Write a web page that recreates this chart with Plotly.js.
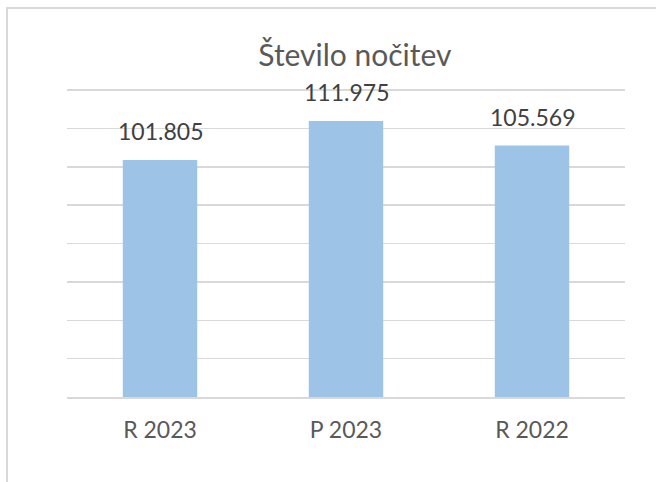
<!DOCTYPE html>
<html>
<head>
<meta charset="utf-8">
<script src="https://cdn.plot.ly/plotly-3.0.1.min.js"></script>
<style>
  html, body { margin: 0; padding: 0; background: #fff; }
  #wrap { position: relative; width: 656px; height: 482px; overflow: hidden; }
  #frame { position: absolute; left: 6px; top: 7px; width: 700px; height: 500px;
           border-left: 2px solid #d9d9d9; border-top: 2px solid #d9d9d9; pointer-events: none; }
  #chart { position: absolute; left: 0; top: 0; width: 656px; height: 482px; }
</style>
</head>
<body>
<div id="wrap">
  <div id="chart"></div>
  <div id="frame"></div>
</div>
<script>
  // data
  const periods = ["R 2023", "P 2023", "R 2022"];
  const nights = [101805, 111975, 105569];

  const fmt = v => String(v).replace(/\B(?=(\d{3})+(?!\d))/g, ".");

  const font = "Lato, 'Open Sans', sans-serif";

  Plotly.newPlot("chart", [{
    x: periods,
    y: nights,
    type: "bar",
    marker: { color: "#9dc3e6" },
    hoverinfo: "skip"
  }], {
    width: 656,
    height: 482,
    paper_bgcolor: "#fff",
    plot_bgcolor: "#fff",
    separators: ",.",
    title: {
      text: "Število nočitev",
      font: { family: font, size: 30, color: "#595959" },
      xref: "container", x: 0.541, xanchor: "center",
      yref: "container", y: 0.885, yanchor: "middle"
    },
    margin: { l: 67, r: 31, t: 89, b: 85 },
    bargap: 0.6,
    showlegend: false,
    xaxis: {
      showgrid: false,
      showline: true,
      linecolor: "#d9d9d9",
      linewidth: 1.5,
      ticks: "",
      ticklabelstandoff: 12,
      tickfont: { family: font, size: 23, color: "#595959" }
    },
    yaxis: {
      range: [40000, 120300],
      tick0: 0,
      dtick: 10000,
      showticklabels: false,
      gridcolor: "#d9d9d9",
      gridwidth: 1.5,
      zeroline: false,
      fixedrange: true
    },
    annotations: periods.map((p, i) => ({
      x: p,
      y: nights[i],
      text: fmt(nights[i]),
      showarrow: false,
      yanchor: "bottom",
      yshift: 13,
      font: { family: font, size: 23, color: "#404040" }
    }))
  }, { displayModeBar: false, staticPlot: true });
</script>
</body>
</html>
